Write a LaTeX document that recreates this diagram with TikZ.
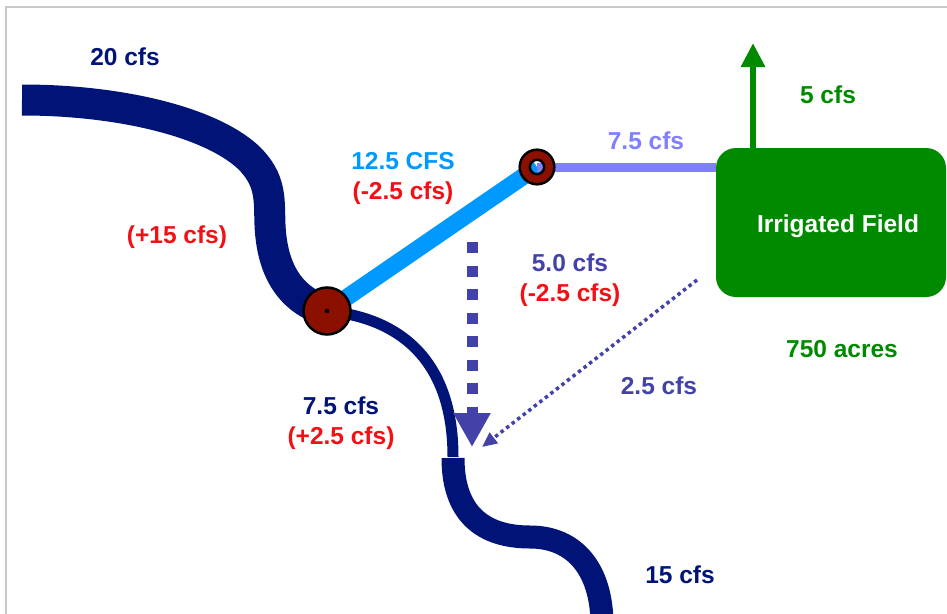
\documentclass[tikz,border=0pt]{standalone}
\usepackage{fontspec}
\setmainfont{Liberation Sans}
\usetikzlibrary{arrows.meta}
\definecolor{river}{RGB}{0,20,120}
\definecolor{flowred}{RGB}{242,16,20}
\definecolor{canal}{RGB}{0,153,255}
\definecolor{lateral}{RGB}{128,128,255}
\definecolor{returnflow}{RGB}{66,66,168}
\definecolor{fieldgreen}{RGB}{0,138,0}
\definecolor{gate}{RGB}{140,16,0}
\definecolor{framegray}{RGB}{200,200,200}
\begin{document}
\begin{tikzpicture}[x=1pt,y=-1pt,
  lbl/.style={font=\fontsize{24.5}{30}\selectfont\bfseries, align=center, inner sep=0pt},
  stream/.style={draw=river, line cap=butt},
  junction/.style={circle, fill=gate, draw=black, line width=2.5, minimum size=47, inner sep=0pt},
  fieldbox/.style={rectangle, rounded corners=20, fill=fieldgreen, minimum width=230, minimum height=149, inner sep=0pt}]
\useasboundingbox (0,0) rectangle (947,613);
\clip (0,0) rectangle (947,613);

% page frame
\draw[framegray, line width=1.5] (6,620) -- (6,7) -- (950,7);

% named points
\coordinate (src) at (22,100);
\coordinate (confl) at (453,457);
\coordinate (confl2) at (453,458);
\coordinate (out) at (602,625);
\coordinate (j2) at (537,167);
\node[fieldbox] (field) at (831,222.5) {};
\coordinate (seep) at (697,280);

% main channel upstream of the diversion
\draw[stream, line width=31] (src) .. controls (120,100) and (210,122) .. (248,157)
  .. controls (272,180) and (269,200) .. (270,225)
  .. controls (272,270) and (290,300) .. (327,311);

% diversion canal
\draw[canal, line width=17] (327,311) -- (j2);
% lateral to the field
\draw[lateral, line width=9] (j2) -- (j2 -| field.west);

% reduced main channel below the diversion
\draw[stream, line width=11] (327,311) .. controls (400,318) and (453,360) .. (confl);
% main channel after return flows
\draw[stream, line width=23] (confl2) .. controls (453,520) and (490,537) .. (530,537)
  .. controls (575,537) and (602,570) .. (out);

% diversion structure
\node[junction] (j1) at (327,311) {};
\fill[black] (j1.center) circle (2.3pt);
% turnout ring
\filldraw[fill=gate, draw=black, line width=2.5, even odd rule] (j2) circle (17.3pt) (j2) circle (7.2pt);

% evapotranspiration
\coordinate (etop) at (753,43);
\draw[fieldgreen, line width=6, -{Triangle[width=23pt,length=24pt]}] (field.north -| etop) -- (etop);

% canal spill back to river
\coordinate (spilltop) at (472,242);
\coordinate (spillend) at (472,447);
\draw[returnflow, line width=11, dash pattern=on 11pt off 12.5pt, -{Triangle[width=35pt,length=34pt]}] (spilltop) -- (spillend);

% field return flow
\coordinate (retend) at (482,447);
\draw[returnflow, line width=3.5, dash pattern=on 3.5pt off 3.5pt, -{Triangle[width=13pt,length=15pt]}] (seep) -- (retend);

% field
\node[lbl, text=white] (fieldlbl) at (838,226.5) {Irrigated Field};

% flow labels
\node[lbl, text=river] (l20) at (125,57) {20 cfs};
\node[lbl, text=flowred] (l15) at (177,237) {(+15 cfs)};
\node[lbl] (lcanal) at (403,178.5) {\textcolor{canal}{12.5 CFS}\\\textcolor{flowred}{(-2.5 cfs)}};
\node[lbl, text=lateral] (llat) at (646,141) {7.5 cfs};
\node[lbl, text=fieldgreen] (let) at (828,95) {5 cfs};
\node[lbl] (lspill) at (570,280.5) {\textcolor{returnflow}{5.0 cfs}\\\textcolor{flowred}{(-2.5 cfs)}};
\node[lbl, text=fieldgreen] (lacres) at (842,349) {750 acres};
\node[lbl, text=returnflow] (lret) at (659,386) {2.5 cfs};
\node[lbl] (lmid) at (341,423.5) {\textcolor{river}{7.5 cfs}\\\textcolor{flowred}{(+2.5 cfs)}};
\node[lbl, text=river] (l15out) at (680,575) {15 cfs};
\end{tikzpicture}
\end{document}
